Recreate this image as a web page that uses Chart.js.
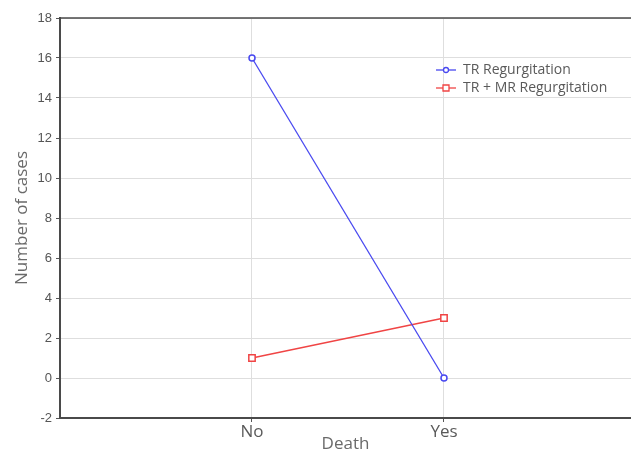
<!DOCTYPE html>
<html>
<head>
<meta charset="utf-8">
<script src="https://cdn.jsdelivr.net/npm/chart.js@4/dist/chart.umd.min.js"></script>
<style>
  html, body { margin: 0; padding: 0; background: #fff; }
  #wrap { width: 631px; height: 452px; }
</style>
</head>
<body>
<div id="wrap"><canvas id="chart"></canvas></div>
<script>
const categories = ['No', 'Yes'];
const trValues = [16, 0];
const trMrValues = [1, 3];
const seriesNames = ['TR Regurgitation', 'TR + MR Regurgitation'];

const toPoints = (values) => values.map((v, i) => ({ x: i + 1, y: v }));

// legend drawn inside the plot, top right, plus the frame line on top
const insideLegend = {
    id: 'insideLegend',
    afterDraw(chart) {
        const ctx = chart.ctx;
        const area = chart.chartArea;
        ctx.save();
        ctx.strokeStyle = '#4a4a4a';
        ctx.lineWidth = 1.5;
        ctx.beginPath();
        ctx.moveTo(area.left, area.top);
        ctx.lineTo(area.right, area.top);
        ctx.stroke();

        ctx.font = '14px "Open Sans"';
        ctx.textBaseline = 'middle';
        chart.data.datasets.forEach((ds, i) => {
            const y = 70 + i * 18;
            ctx.strokeStyle = ds.borderColor;
            ctx.lineWidth = 1.3;
            ctx.beginPath();
            ctx.moveTo(436, y);
            ctx.lineTo(456, y);
            ctx.stroke();
            ctx.fillStyle = '#fff';
            ctx.beginPath();
            if (ds.pointStyle === 'rect') {
                ctx.rect(443, y - 3, 6, 6);
            } else {
                ctx.arc(446, y, 2.5, 0, Math.PI * 2);
            }
            ctx.fill();
            ctx.stroke();
            ctx.fillStyle = '#5a5a5a';
            ctx.fillText(ds.label, 463, y);
        });
        ctx.restore();
    }
};

new Chart(document.getElementById('chart'), {
    type: 'line',
    data: {
        datasets: [{
            label: seriesNames[0],
            data: toPoints(trValues),
            borderColor: '#4848f0',
            backgroundColor: '#fff',
            borderWidth: 1.3,
            pointStyle: 'circle',
            pointRadius: 3,
            pointBorderWidth: 1.5
        }, {
            label: seriesNames[1],
            data: toPoints(trMrValues),
            borderColor: '#f04444',
            backgroundColor: '#fff',
            borderWidth: 1.3,
            pointStyle: 'rect',
            pointRadius: 4.5,
            pointBorderWidth: 1.5
        }]
    },
    options: {
        responsive: true,
        maintainAspectRatio: false,
        animation: false,
        layout: { autoPadding: false, padding: { top: 18, right: 0, left: 0, bottom: 0 } },
        plugins: {
            legend: { display: false },
            tooltip: { enabled: false }
        },
        scales: {
            x: {
                type: 'linear',
                min: 0,
                max: 2.974,
                afterBuildTicks: (scale) => {
                    scale.ticks = categories.map((c, i) => ({ value: i + 1 }));
                },
                afterFit: (scale) => { scale.height = 34; },
                ticks: {
                    callback: (v) => categories[v - 1],
                    color: '#5a5a5a',
                    font: { family: 'Open Sans', size: 17 },
                    padding: 0,
                    maxRotation: 0
                },
                grid: { color: '#dedede', tickLength: 4, tickColor: '#555' },
                border: { color: '#4a4a4a', width: 2 },
                title: {
                    display: true,
                    text: 'Death',
                    color: '#6a6a6a',
                    font: { family: 'Open Sans', size: 17 },
                    padding: { top: 0, bottom: -2 }
                }
            },
            y: {
                min: -2,
                max: 18,
                afterFit: (scale) => { scale.width = 60; },
                ticks: {
                    stepSize: 2,
                    color: '#555',
                    font: { family: 'Liberation Sans', size: 13 },
                    padding: 4
                },
                grid: { color: '#dedede', tickLength: 4, tickColor: '#555' },
                border: { color: '#4a4a4a', width: 2 },
                title: {
                    display: true,
                    text: 'Number of cases',
                    color: '#6a6a6a',
                    font: { family: 'Open Sans', size: 17 },
                    padding: { top: 12, bottom: 0 }
                }
            }
        }
    },
    plugins: [insideLegend]
});
</script>
</body>
</html>
